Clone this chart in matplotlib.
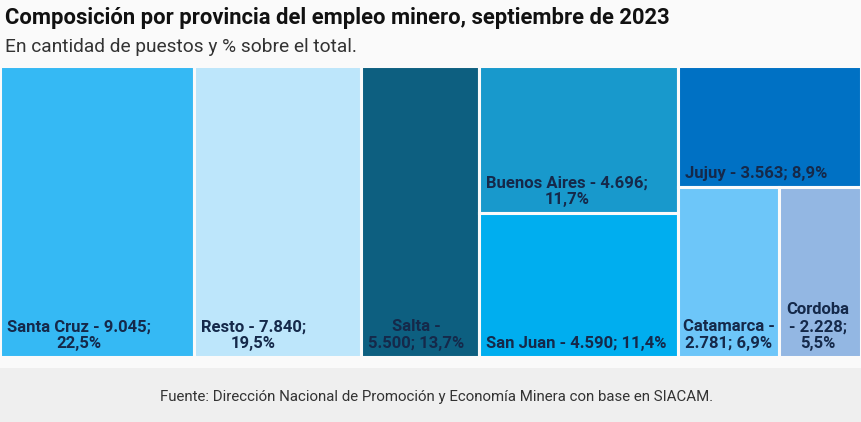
import matplotlib
matplotlib.use("Agg")
import matplotlib.pyplot as plt
from matplotlib.patches import Rectangle

# data
provincias = ["Santa Cruz", "Resto", "Salta", "Buenos Aires", "San Juan",
              "Jujuy", "Catamarca", "Cordoba"]
puestos = [9045, 7840, 5500, 4696, 4590, 3563, 2781, 2228]
porcentajes = ["22,5%", "19,5%", "13,7%", "11,7%", "11,4%", "8,9%", "6,9%", "5,5%"]
etiquetas = [
    "Santa Cruz - 9.045;\n22,5%",
    "Resto - 7.840;\n19,5%",
    "Salta -\n5.500; 13,7%",
    "Buenos Aires - 4.696;\n11,7%",
    "San Juan - 4.590; 11,4%",
    "Jujuy - 3.563; 8,9%",
    "Catamarca -\n2.781; 6,9%",
    "Cordoba\n- 2.228;\n5,5%",
]
colores = ["#35b9f4", "#bde6fb", "#0d5f80", "#1899cc", "#00aeef",
           "#0071c4", "#6dc6f9", "#93b7e3"]

# how the tiles are nested: columns, then rows, then columns again
estructura = [0, 1, 2, ("v", [3, 4]), ("v", [5, ("h", [6, 7])])]


def total(nodo):
    if isinstance(nodo, int):
        return puestos[nodo]
    return sum(total(n) for n in nodo[1])


def layout(nodo, x, y, w, h, horizontal, out):
    if isinstance(nodo, int):
        out[nodo] = (x, y, w, h)
        return
    if not isinstance(nodo, list):
        horizontal = nodo[0] == "h"
        nodo = nodo[1]
    suma = sum(total(n) for n in nodo)
    for n in nodo:
        f = total(n) / suma
        if horizontal:
            layout(n, x, y, w * f, h, horizontal, out)
            x += w * f
        else:
            layout(n, x, y, w, h * f, horizontal, out)
            y += h * f


W, H = 862, 422
fig = plt.figure(figsize=(W / 100, H / 100), dpi=100)
fig.patch.set_facecolor("#fafafa")
ax = fig.add_axes([0, 0, 1, 1])
ax.set_xlim(0, W)
ax.set_ylim(H, 0)
ax.axis("off")

# footer band
ax.add_patch(Rectangle((0, 368), W, H - 368, color="#efefef", lw=0))

rects = {}
layout(estructura, 0, 66, 861, 291, True, rects)

fig.canvas.draw()
r = fig.canvas.get_renderer()
for i, (x, y, w, h) in rects.items():
    ax.add_patch(Rectangle((x, y), w, h, facecolor=colores[i],
                           edgecolor="#fafafa", lw=2.2))
    t = ax.text(x + 7, y + h - 6, etiquetas[i], ha="left", va="bottom",
                multialignment="center", fontsize=12, fontweight="bold",
                family="Roboto", color="#15294a", linespacing=1.15)
    # centre the block when it is too wide for the left padding
    tw = t.get_window_extent(r).width
    if tw > w - 10:
        t.set_x(x + w / 2)
        t.set_ha("center")

ax.text(5, 18, "Composición por provincia del empleo minero, septiembre de 2023",
        ha="left", va="center", fontsize=15.8, fontweight="bold",
        family="Roboto", color="#111111")
ax.text(5, 47, "En cantidad de puestos y % sobre el total.",
        ha="left", va="center", fontsize=13.8, family="Roboto", color="#333333")
ax.text(437, 397, "Fuente: Dirección Nacional de Promoción y Economía Minera con base en SIACAM.",
        ha="center", va="center", fontsize=10.8, family="Roboto", color="#333333")

fig.savefig("out.png", dpi=100, facecolor=fig.get_facecolor())
